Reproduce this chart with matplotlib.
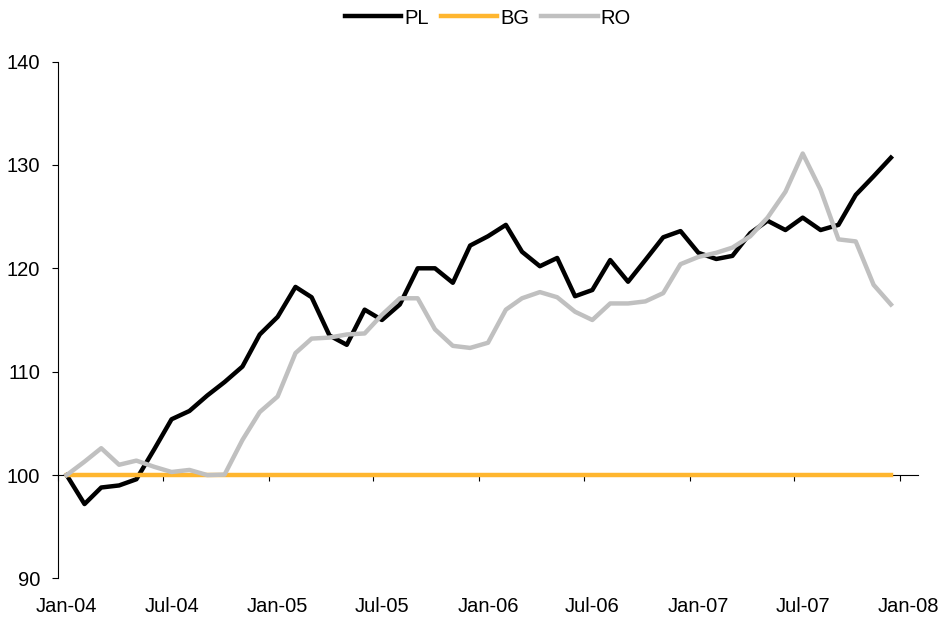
import numpy as np
import pandas as pd
import matplotlib
matplotlib.use("Agg")
import matplotlib.pyplot as plt
import matplotlib.dates as mdates

plt.rcParams['font.family'] = ['Liberation Sans', 'DejaVu Sans']

## data: monthly index, Jan-04 = 100
months = pd.date_range('2004-01-01', periods=48, freq='MS')
pl = [100.0, 97.2, 98.8, 99.0, 99.6, 102.5, 105.4, 106.2, 107.7, 109.0, 110.5, 113.6,
      115.3, 118.2, 117.2, 113.5, 112.6, 116.0, 115.0, 116.5, 120.0, 120.0, 118.6, 122.2,
      123.1, 124.2, 121.6, 120.2, 121.0, 117.3, 117.9, 120.8, 118.7, 120.8, 123.0, 123.6,
      121.5, 120.9, 121.2, 123.4, 124.6, 123.7, 124.9, 123.7, 124.2, 127.1, 128.9, 130.7]
bg = [100.0] * 48
ro = [100.0, 101.3, 102.6, 101.0, 101.4, 100.8, 100.3, 100.5, 100.0, 100.05, 103.4, 106.1,
      107.6, 111.8, 113.2, 113.3, 113.6, 113.7, 115.5, 117.1, 117.1, 114.1, 112.5, 112.3,
      112.8, 116.0, 117.1, 117.7, 117.2, 115.8, 115.0, 116.6, 116.6, 116.8, 117.6, 120.4,
      121.1, 121.5, 122.0, 123.1, 124.9, 127.4, 131.1, 127.6, 122.8, 122.6, 118.4, 116.5]
tick_dates = pd.date_range('2004-01-01', '2008-01-01', freq='6MS')
tick_labels = [d.strftime('%b-%y') for d in tick_dates]

# excel draws points (and labels) in the middle of each month
half_month = pd.Timedelta(days=15)
x = mdates.date2num(months + half_month)

fig = plt.figure(figsize=(9.46, 6.24), dpi=100)
ax = fig.add_axes([58/946, 1-578.5/624, 860/946, 517/624])

# zorder above the spines so the flat BG line hides the x axis line
ax.plot(x, pl, color='black', lw=3.2, label='PL', zorder=3)
ax.plot(x, bg, color='#FFB62F', lw=3.2, label='BG', zorder=3)
ax.plot(x, ro, color='#C0C0C0', lw=3.2, label='RO', zorder=3)

ax.set_xlim(mdates.date2num(pd.Timestamp('2004-01-01')), mdates.date2num(pd.Timestamp('2008-02-01')))
ax.set_ylim(90, 140)
ax.set_yticks(range(90, 141, 10))

for s in ['top', 'right']:
    ax.spines[s].set_visible(False)
ax.spines['bottom'].set_position(('data', 100))
ax.spines['bottom'].set_linewidth(0.8)
ax.spines['left'].set_linewidth(0.8)

ax.set_xticks(mdates.date2num(tick_dates))
ax.tick_params(axis='x', labelbottom=False, direction='out', length=4.5, width=0.8)
ax.tick_params(axis='y', direction='out', length=4.5, width=0.8, pad=8.5, labelsize=14.5)

# labels at bottom of plot, shifted to mid-month like the original
sec = ax.secondary_xaxis(0)
sec.set_xticks(mdates.date2num(tick_dates + half_month), tick_labels)
sec.spines['bottom'].set_visible(False)
sec.tick_params(length=0, pad=13, labelsize=14.5)

fig.legend(loc='center', bbox_to_anchor=(488/946, 1-18/624), ncol=3, frameon=False,
           fontsize=14.5, handlelength=2.8, handletextpad=0.15, columnspacing=0.6)

plt.savefig('out.png', dpi=100)
